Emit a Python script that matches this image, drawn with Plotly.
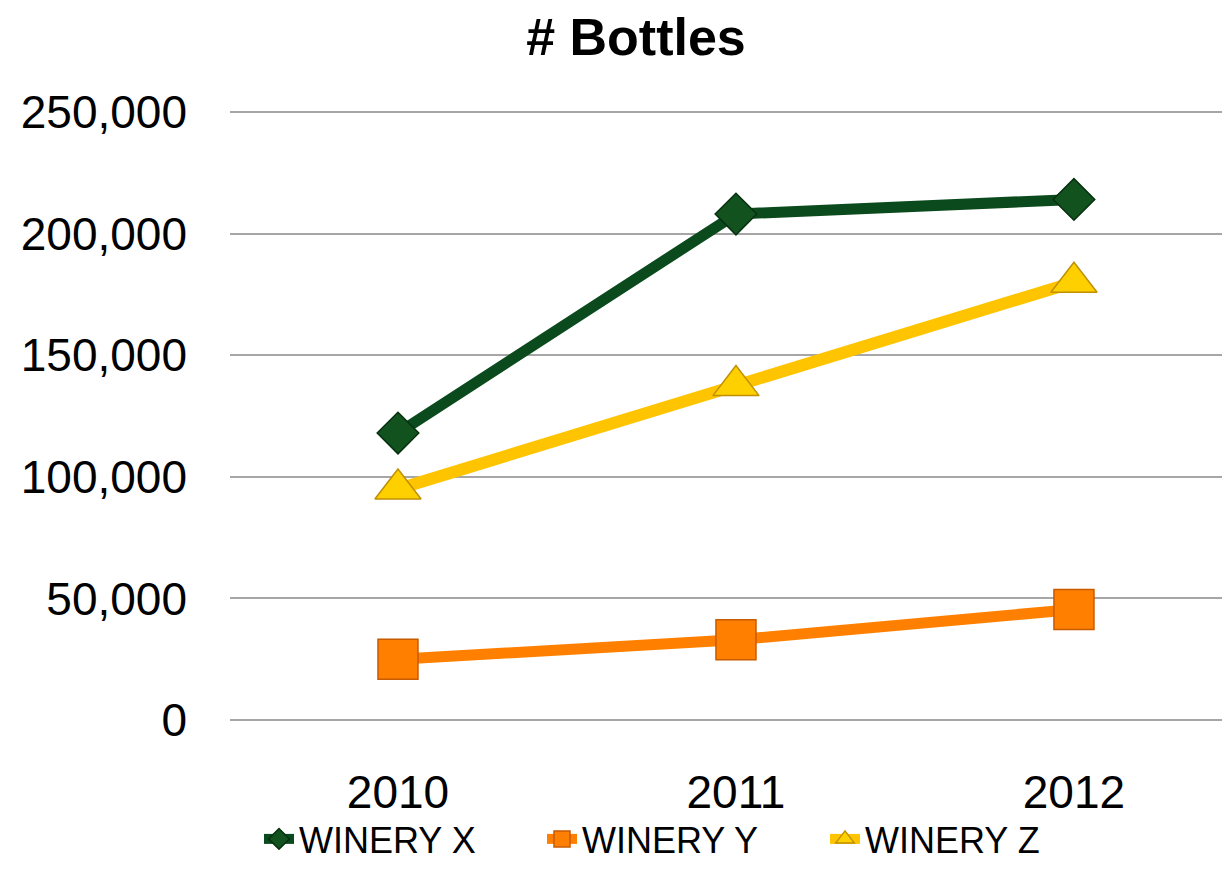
import plotly.graph_objects as go

years = ["2010", "2011", "2012"]
winery_x = [118000, 208000, 214000]
winery_y = [25000, 33000, 45500]
winery_z = [95000, 137500, 180000]
series_names = ["WINERY X", "WINERY Y", "WINERY Z"]
y_ticks = [0, 50000, 100000, 150000, 200000, 250000]

FONT = "Liberation Sans, Arial, sans-serif"
W, H = 1214, 861

fig = go.Figure()
fig.add_trace(go.Scatter(
    x=years, y=winery_x, name=series_names[0], mode="lines+markers",
    line=dict(color="#0B4A1D", width=11),
    marker=dict(symbol="diamond", size=32, color="#11521F",
                line=dict(color="#06300F", width=1.5)),
))
fig.add_trace(go.Scatter(
    x=years, y=winery_y, name=series_names[1], mode="lines+markers",
    line=dict(color="#FF8000", width=11),
    marker=dict(symbol="square", size=40, color="#FF8000",
                line=dict(color="#C85A00", width=1.5)),
))
fig.add_trace(go.Scatter(
    x=years, y=winery_z, name=series_names[2], mode="lines+markers",
    line=dict(color="#FFC400", width=12),
    marker=dict(symbol="triangle-up", size=40, color="#FFD000",
                line=dict(color="#C09000", width=1.5)),
))

fig.update_layout(
    width=W, height=H,
    margin=dict(l=222, r=0, t=98.8, b=144.1, autoexpand=False),
    paper_bgcolor="white", plot_bgcolor="white",
    font=dict(family=FONT, color="black"),
    title=dict(text="<b># Bottles</b>", x=628/W, xref="container", xanchor="center",
               y=1 - 29/H, yref="container", yanchor="middle",
               font=dict(size=52, family=FONT, color="black")),
    showlegend=True,
    legend=dict(orientation="h", xref="container", yref="container",
                x=251/W, xanchor="left", y=0.0, yanchor="bottom",
                font=dict(size=36, family=FONT, color="black"),
                entrywidth=238, entrywidthmode="pixels",
                bgcolor="rgba(0,0,0,0)"),
)
fig.update_xaxes(
    type="category", range=[-0.497, 2.438], showgrid=False, showline=False,
    ticks="", tickfont=dict(size=46, family=FONT, color="black"),
    ticklabelstandoff=36,
)
fig.update_yaxes(
    range=[-2000, 252000], tickvals=y_ticks, tickformat=",",
    showgrid=True, gridcolor="#A6A6A6", gridwidth=2,
    zeroline=True, zerolinecolor="#A6A6A6", zerolinewidth=2,
    showline=False, ticks="", tickfont=dict(size=46, family=FONT, color="black"),
    ticklabelstandoff=42,
)

fig.write_html("out.html")
